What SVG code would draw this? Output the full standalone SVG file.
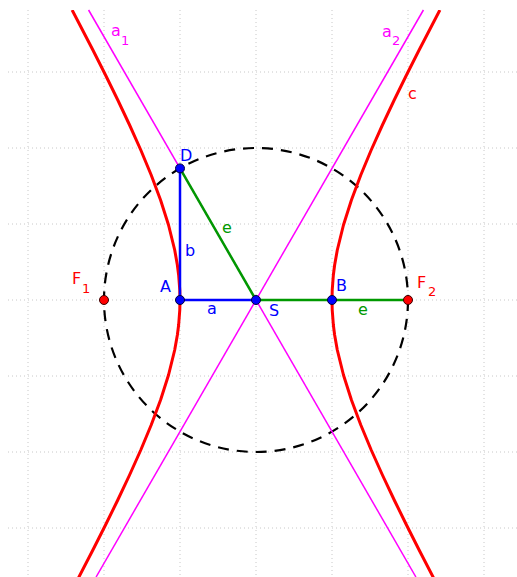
<svg xmlns="http://www.w3.org/2000/svg" width="517" height="577" viewBox="0 0 517 577">
<style>
.grid{stroke:#c8c8c8;stroke-width:1;stroke-dasharray:1 3;fill:none}
.hyp{stroke:#ff0000;stroke-width:3;fill:none;stroke-linejoin:round}
.asy{stroke:#ff00ff;stroke-width:1.5;fill:none}
.blue{stroke:#0000ff;stroke-width:2.5;fill:none}
.green{stroke:#009900;stroke-width:2.5;fill:none}
.circ{stroke:#000;stroke-width:2.2;fill:none;stroke-dasharray:11 8}
.pb{fill:#0000ff;stroke:#00003a;stroke-width:1}
.pr{fill:#ff0000;stroke:#3a0000;stroke-width:1}
text{font-family:"DejaVu Sans","Liberation Sans",sans-serif;font-size:16px}
.tb{fill:#0000ff}.tr{fill:#ff0000}.tm{fill:#ff00ff}.tg{fill:#009900}
.sub{font-size:13px}
</style>
<rect width="517" height="577" fill="#fff"/>
<g id="grid">
<path class="grid" d="M28 10V577M104 10V577M180 10V577M256 10V577M332 10V577M408 10V577M484 10V577"/>
<path class="grid" d="M8 72H517M8 148H517M8 224H517M8 300H517M8 376H517M8 452H517M8 528H517"/>
</g>
<g id="circle"><circle class="circ" cx="256" cy="300" r="152"/></g>
<g id="asymptotes">
<g id="a1"><line class="asy" x1="88.57" y1="10" x2="415.93" y2="577"/><text class="tm" x="111" y="36">a<tspan class="sub" x="121" y="45">1</tspan></text></g>
<g id="a2"><line class="asy" x1="423.43" y1="10" x2="96.07" y2="577"/><text class="tm" x="382" y="37">a<tspan class="sub" x="392" y="45">2</tspan></text></g>
</g>
<clipPath id="clip"><rect x="0" y="10" width="517" height="567"/></clipPath>
<g id="c" clip-path="url(#clip)">
<polyline class="hyp" points="72.12,10 92.87,50 105.50,75 117.77,100 129.57,125 140.78,150 151.19,175 160.56,200 168.53,225 174.70,250 177.36,265 178.64,275 179.78,290 180,300 179.78,310 178.64,325 177.36,335 174.70,350 168.53,375 160.56,400 151.19,425 140.78,450 129.57,475 117.77,500 105.50,525 92.87,550 77.37,580"/>
<polyline class="hyp" points="439.88,10 419.13,50 406.50,75 394.23,100 382.43,125 371.22,150 360.81,175 351.44,200 343.47,225 337.30,250 334.64,265 333.36,275 332.22,290 332,300 332.22,310 333.36,325 334.64,335 337.30,350 343.47,375 351.44,400 360.81,425 371.22,450 382.43,475 394.23,500 406.50,525 419.13,550 434.63,580"/>
<text class="tr" x="408" y="99">c</text>
</g>
<g id="connectors">
<g id="seg-b"><line class="blue" x1="180" y1="300" x2="180" y2="168.4"/><text class="tb" x="185" y="256">b</text></g>
<g id="seg-a"><line class="blue" x1="180" y1="300" x2="256" y2="300"/><text class="tb" x="207" y="314">a</text></g>
<g id="seg-e1"><line class="green" x1="180" y1="168.4" x2="256" y2="300"/><text class="tg" x="222" y="233">e</text></g>
<g id="seg-e2"><line class="green" x1="256" y1="300" x2="408" y2="300"/><text class="tg" x="358" y="315">e</text></g>
</g>
<g id="F1"><circle class="pr" cx="104" cy="300" r="4.5"/><text class="tr" x="72" y="284">F<tspan class="sub" x="82" y="293">1</tspan></text></g>
<g id="F2"><circle class="pr" cx="408" cy="300" r="4.5"/><text class="tr" x="417" y="288">F<tspan class="sub" x="428" y="296">2</tspan></text></g>
<g id="A"><circle class="pb" cx="180" cy="300" r="4.5"/><text class="tb" x="160" y="292">A</text></g>
<g id="B"><circle class="pb" cx="332" cy="300" r="4.5"/><text class="tb" x="336" y="291">B</text></g>
<g id="S"><circle class="pb" cx="256" cy="300" r="4.5"/><text class="tb" x="269" y="316">S</text></g>
<g id="D"><circle class="pb" cx="180" cy="168.4" r="4.5"/><text class="tb" x="180" y="161">D</text></g>
</svg>
